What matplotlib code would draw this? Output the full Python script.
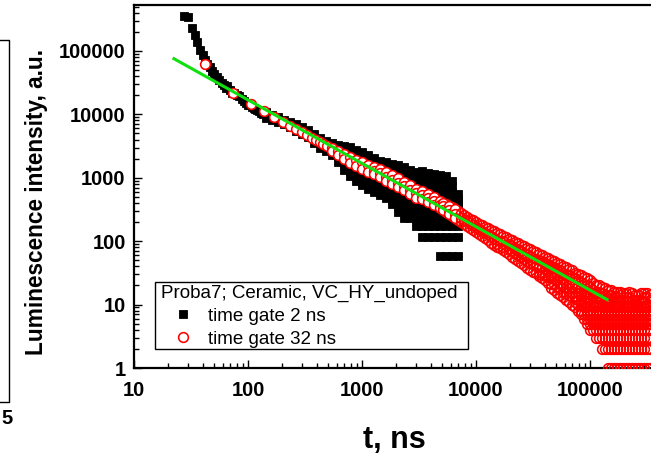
import matplotlib.pyplot as plt
from matplotlib.lines import Line2D
from matplotlib.patches import Rectangle
from matplotlib.ticker import FixedLocator, FixedFormatter, LogLocator, NullFormatter

plt.rcParams['font.family'] = ['Liberation Sans', 'DejaVu Sans']
plt.rcParams['font.weight'] = 'bold'

# time gate 2 ns, early part (one point per time)
black_t = [27.5, 29.5, 32, 34, 36, 38, 40, 42, 44, 46, 48, 50, 53, 56, 59, 62, 64, 66,
           70, 72, 75, 80, 84, 88, 92, 96, 100, 104, 108, 112, 116, 120, 125, 130, 135]
black_i = [350000, 340000, 230000, 180000, 140000, 105000, 86000, 72000, 62000, 55000,
           49000, 44000, 39000, 35000, 31500, 29000, 26000, 27500, 24000, 22000, 21500,
           20000, 19500, 17500, 16500, 15000, 14200, 13800, 13000, 12500, 12200, 11500,
           11200, 10500, 10300]

# time gate 2 ns, noisy part (several intensities per time)
black_col_t = [144, 162, 183, 207, 234, 264, 298, 336, 379, 428, 483, 545, 615, 695, 785,
               885, 1000, 1129, 1274, 1438, 1623, 1832, 2069, 2335, 2636, 2976, 3359,
               3792, 4280, 4832, 5455, 6157, 6950]
black_col_i = [
    [10900, 8740], [9750, 8130], [9060, 7550], [8130, 7030], [7550, 6300],
    [7030, 6200, 5450], [6300, 5500, 4890], [5650, 4950, 4380], [4890, 4150, 3530],
    [4230, 3530, 2940], [3780, 3150, 2630], [3530, 2830, 2280],
    [3270, 2730, 2200, 1760], [3160, 2540, 2040, 1640, 1320],
    [3040, 2450, 1970, 1580, 1270, 1060], [2730, 2200, 1760, 1420, 1100, 884],
    [2540, 2040, 1640, 1320, 1060, 851, 764], [2280, 1830, 1470, 1180, 950, 764, 661],
    [2040, 1640, 1320, 1060, 851, 710, 593], [1830, 1470, 1180, 950, 764, 637, 531],
    [1760, 1420, 1140, 916, 737, 593, 476], [1640, 1320, 1060, 851, 686, 551, 443, 383],
    [1580, 1270, 1020, 822, 661, 531, 427, 348, 290],
    [1470, 1180, 950, 764, 614, 494, 406, 348, 290, 232],
    [1320, 1060, 851, 686, 551, 443, 348, 290, 232],
    [1220, 980, 790, 637, 510, 406, 348, 290, 232, 174],
    [1270, 1020, 822, 661, 531, 464, 406, 348, 290, 232, 174, 116],
    [1200, 970, 790, 637, 522, 464, 406, 348, 290, 232, 174, 116],
    [1140, 916, 737, 593, 522, 464, 406, 348, 290, 232, 174, 116],
    [1100, 884, 710, 580, 464, 406, 348, 290, 232, 174, 116, 58],
    [1060, 851, 686, 580, 464, 406, 348, 290, 232, 174, 116, 58],
    [900, 737, 593, 464, 406, 348, 290, 232, 174, 116, 58],
    [551, 464, 406, 348, 290, 232, 174, 116, 58],
]

# time gate 32 ns, early part
red_t = [42, 74, 106, 138, 170, 202, 234, 266, 298, 330, 362, 394, 426, 458, 490]
red_i = [63000, 21800, 14800, 11300, 9100, 7700, 6650, 5850, 5220, 4710, 4300, 3950,
         3650, 3400, 3180]

# time gate 32 ns, noisy part
red_col_t = [545, 615, 695, 785, 885, 1000, 1129, 1274, 1438, 1623, 1832, 2069, 2335,
             2636, 2976, 3359, 3792, 4280, 4832, 5455, 6157, 6950, 7850, 8860, 10000,
             11290, 12740, 14380, 16240, 18330, 20690, 23350, 26360, 29760, 33590, 37920,
             42810, 48320, 54550, 61570, 69510, 78470, 88580, 100000, 112900, 127400,
             143800, 162400, 183300, 206900, 233500, 263600, 297600, 335900]
red_col_i = [
    [2940, 2630], [2680, 2280], [2370, 1970], [2120, 1700], [1900, 1520], [1760, 1370],
    [1580, 1220], [1470, 1290, 1140], [1370, 1180, 1020], [1220, 1040, 880],
    [1100, 930, 790], [980, 840, 710], [870, 737, 630], [764, 650, 551], [670, 570, 485],
    [614, 531, 459], [551, 476, 412], [494, 427, 369], [427, 376, 331], [383, 331, 286],
    [343, 291, 247], [297, 252, 214], [257, 218, 185], [226, 191, 160], [198, 166, 138],
    [178, 146, 119], [160, 128, 103], [143, 113, 88], [128, 99, 77], [115, 88, 67],
    [103, 84, 69, 57], [92, 74, 60, 48], [83, 66, 52, 42], [74, 58, 44.5, 35],
    [67, 52, 40, 31], [60, 48, 38.5, 31, 26], [54, 43, 34.7, 27.4, 22],
    [48, 39, 32, 26, 21, 17], [43, 35, 28, 22, 18, 14], [39, 30, 24, 19, 15, 12],
    [35, 27, 21, 16, 13, 10], [30, 24, 19, 15, 12, 10, 8], [27, 21, 17, 14, 11, 9, 7, 6],
    [24, 19, 15, 12, 10, 8, 7, 6, 5, 4], [20, 16, 13, 11, 9, 8, 7, 6, 5, 4, 3],
    [19, 15, 12, 10, 9, 8, 7, 6, 5, 4, 3, 2],
    [17, 14, 12, 10, 9, 8, 7, 6, 5, 4, 3, 2, 1],
    [16, 13, 11, 10, 9, 8, 7, 6, 5, 4, 3, 2, 1],
    [16, 14, 12, 10, 9, 8, 7, 6, 5, 4, 3, 2, 1],
    [15, 13, 11, 9, 8, 7, 6, 5, 4, 3, 2, 1],
    [15, 12, 10, 9, 8, 7, 6, 5, 4, 3, 2, 1],
    [14, 12, 10, 9, 8, 7, 6, 5, 4, 3, 2, 1],
    [15, 13, 11, 9, 8, 7, 6, 5, 4, 3, 2, 1],
    [14, 12, 10, 9, 8, 7, 6, 5, 4, 3, 2, 1],
]
# time gate 32 ns, points in between the columns above
red_mid_t = [5140, 5800, 6550, 7390, 8340, 9410, 10620, 11990, 13540, 15290, 17260,
             19470, 21980, 24810, 28000, 31620, 35720, 40270, 45460, 51320, 57930, 65400,
             73820, 83340, 94070, 106200, 119900, 135400, 152900, 172600, 194800, 219900,
             248300, 280200, 316200]
red_mid_i = [
    [405, 355, 305], [362, 311, 267], [320, 270, 230], [277, 235, 200], [241, 205, 172],
    [212, 178, 149], [188, 156, 128], [169, 137, 111], [151, 121, 95], [135, 106, 90, 82],
    [121, 100, 80, 72], [109, 90, 74, 62], [97, 79, 64, 53], [87, 70, 56, 45],
    [78, 62, 48, 38], [70, 55, 43, 33], [63, 50, 39, 30, 28], [57, 45, 36, 29, 24],
    [51, 41, 33, 27, 21, 18], [45, 37, 30, 24, 19, 15], [41, 32, 26, 21, 16, 13],
    [37, 29, 23, 18, 14, 11], [32, 26, 20, 16, 13, 11, 9], [29, 23, 18, 14, 12, 10, 8, 7],
    [26, 20, 16, 13, 11, 9, 8, 7, 6, 5], [22, 17, 14, 11, 10, 9, 7, 6, 5, 4],
    [20, 16, 13, 11, 10, 8, 7, 6, 5, 4, 3], [18, 14, 12, 11, 9, 8, 7, 6, 5, 4, 3, 2],
    [17, 14, 12, 11, 9, 8, 7, 6, 5, 4, 3, 2, 1], [16, 13, 11, 9, 8, 7, 6, 5, 4, 3, 2, 1],
    [15, 12, 10, 9, 8, 7, 6, 5, 4, 3, 2, 1], [16, 13, 11, 9, 8, 7, 6, 5, 4, 3, 2, 1],
    [14, 12, 10, 9, 8, 7, 6, 5, 4, 3, 2, 1], [15, 12, 11, 9, 8, 7, 6, 5, 4, 3, 2, 1],
    [15, 13, 10, 9, 8, 7, 6, 5, 4, 3, 2, 1],
]

# power-law fit (green line)
fit_t = [22.4, 141000]
fit_i = [75400, 12.0]

x_ticks = [10, 100, 1000, 10000, 100000]
y_ticks = [1, 10, 100, 1000, 10000, 100000]
legend_title = 'Proba7; Ceramic, VC_HY_undoped'
labels = ['time gate 2 ns', 'time gate 32 ns']


def flat(t0, i0, col_t, col_i):
    ts = list(t0) + [t for t, col in zip(col_t, col_i) for _ in col]
    vs = list(i0) + [v for col in col_i for v in col]
    return ts, vs


bt, bi = flat(black_t, black_i, black_col_t, black_col_i)
rt, ri = flat(red_t, red_i, red_col_t, red_col_i)
rt, ri = flat(rt, ri, red_mid_t, red_mid_i)

# where the red cloud lies over the black squares the circles are white inside,
# further on they overlap so much that only the red rings are seen
split = 7000
rt_a = [t for t in rt if t <= split]
ri_a = [v for t, v in zip(rt, ri) if t <= split]
rt_b = [t for t in rt if t > split]
ri_b = [v for t, v in zip(rt, ri) if t > split]

W, H = 651, 455
fig = plt.figure(figsize=(W / 100, H / 100), dpi=100)
# the right part of the axes is cut off by the figure edge, as in the original
ax = fig.add_axes([134 / W, 87 / H, 570 / W, 363 / H])
ax.set_xscale('log')
ax.set_yscale('log')
ax.set_xlim(10, 1e6)
ax.set_ylim(1, 5.3e5)

h1, = ax.plot(bt, bi, 's', color='black', ms=5.8, mew=0.6, zorder=2)
h2, = ax.plot(rt_a, ri_a, 'o', mfc='white', mec='red', ms=7, mew=1.15, zorder=3)
ax.plot(rt_b, ri_b, 'o', mfc='none', mec='red', ms=7, mew=1.15, zorder=3)
ax.plot(fit_t, fit_i, '-', color='#10e010', lw=2.2, zorder=4)

for axis, ticks in ((ax.xaxis, x_ticks), (ax.yaxis, y_ticks)):
    axis.set_major_locator(FixedLocator(ticks))
    axis.set_major_formatter(FixedFormatter([str(v) for v in ticks]))
    axis.set_minor_locator(LogLocator(base=10, subs=range(2, 10), numticks=20))
    axis.set_minor_formatter(NullFormatter())

ax.tick_params(which='both', direction='in', top=False, right=False, width=1)
ax.tick_params(which='major', length=6, labelsize=14.5)
ax.tick_params(axis='x', which='major', pad=9)
ax.tick_params(axis='y', which='major', pad=6)
ax.tick_params(which='minor', length=3.5)
for s in ax.spines.values():
    s.set_linewidth(1.6)

fig.text(37 / W, 1 - 202 / H, 'Luminescence intensity, a.u.', rotation=90,
         ha='center', va='center', fontsize=16.3, fontweight='bold')
fig.text(394 / W, 1 - 448 / H, 't, ns', ha='center', va='baseline',
         fontsize=22, fontweight='bold')

# legend frame drawn separately so the padding can differ across and down
fig.add_artist(Rectangle((155 / W, 1 - 349 / H), 313 / W, 67 / H, transform=fig.transFigure,
                         facecolor='white', edgecolor='black', lw=1.0, zorder=4))
leg = fig.legend([h1, h2], labels, title=legend_title, loc='upper left',
                 bbox_to_anchor=(161 / W, 1 - 284.5 / H), frameon=False,
                 borderaxespad=0, borderpad=0, handlelength=2.3, handletextpad=0.23,
                 labelspacing=0.31, alignment='left',
                 prop={'weight': 'normal', 'size': 13.5},
                 title_fontproperties={'weight': 'normal', 'size': 13.5})
leg.set_zorder(5)

# piece of the neighbouring panel at the left edge
fig.add_artist(Line2D([0, 9 / W, 9 / W, 0], [1 - 40 / H, 1 - 40 / H, 1 - 402 / H, 1 - 402 / H],
                      transform=fig.transFigure, color='black', lw=1))
fig.text(7 / W, 1 - 418 / H, '5', ha='center', va='center', fontsize=14.5, fontweight='bold')

fig.savefig('out.png', dpi=100)
